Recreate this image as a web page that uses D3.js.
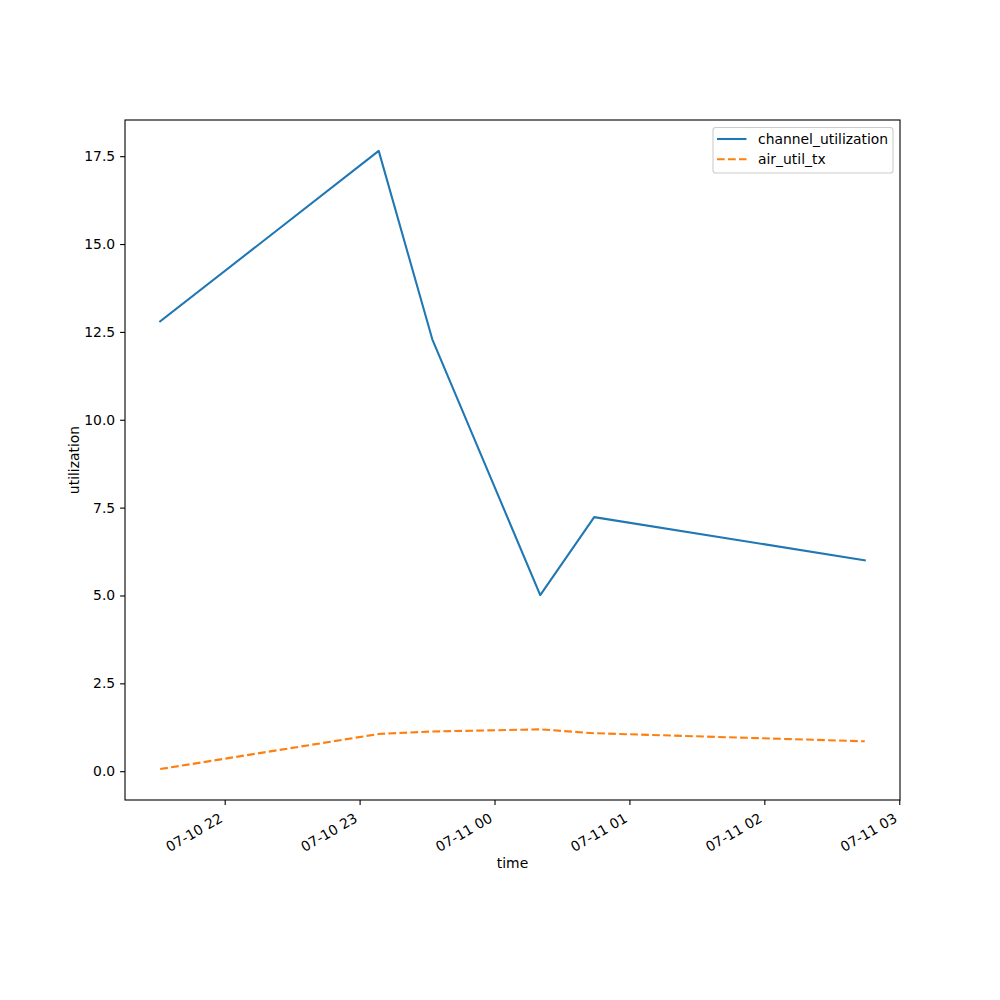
<!DOCTYPE html>
<html>
<style>
  body { margin: 0; background: #ffffff; }
  svg { font-family: "DejaVu Sans", sans-serif; }
</style>
<script src="https://d3js.org/d3.v7.min.js"></script>
<body>
<svg id="chart" width="1000" height="1000"></svg>
</body>
<script>
  // readings (UTC)
  const times = [
    "2024-07-10T21:31:20Z", "2024-07-10T23:08:30Z", "2024-07-10T23:32:20Z",
    "2024-07-11T00:20:20Z", "2024-07-11T00:44:20Z", "2024-07-11T02:44:40Z"
  ]
  const channelUtilization = [12.80, 17.65, 12.29, 5.01, 7.23, 6.00]
  const airUtilTx = [0.06, 1.06, 1.13, 1.19, 1.08, 0.85]
  const seriesNames = ["channel_utilization", "air_util_tx"]
  const yTicks = [0.0, 2.5, 5.0, 7.5, 10.0, 12.5, 15.0, 17.5]

  const margin = {left: 125, right: 100, top: 120, bottom: 200}
  const width = 1000, height = 1000
  const font = "DejaVu Sans, sans-serif"
  const svg = d3.select("#chart")

  const dates = times.map(t => new Date(t))

  // matplotlib style 5% margins
  const pad = (lo, hi) => { let m = (hi - lo) * 0.05; return [lo - m, hi + m] }
  const xExt = d3.extent(dates).map(d => +d)
  const allY = channelUtilization.concat(airUtilTx)
  const yExt = d3.extent(allY)

  const x = d3.scaleUtc()
      .domain(pad(xExt[0], xExt[1]).map(v => new Date(v)))
      .range([margin.left, width - margin.right])
  const y = d3.scaleLinear()
      .domain(pad(yExt[0], yExt[1]))
      .range([height - margin.bottom, margin.top])

  const fmt = d3.utcFormat("%m-%d %H")

  // x axis
  let xAxis = svg.append("g")
      .attr("transform", `translate(0,${height - margin.bottom})`)
      .call(d3.axisBottom(x).ticks(d3.utcHour.every(1)).tickSize(4.9).tickFormat(fmt))
      .attr("font-family", font)
  xAxis.select(".domain").remove()
  xAxis.selectAll(".tick line").attr("stroke", "#000").attr("stroke-width", 1.1)
  xAxis.selectAll(".tick text")
      .attr("font-size", 13.9)
      .attr("fill", "#000")
      .attr("text-anchor", "end")
      .attr("dy", null)
      .attr("y", null)
      .attr("transform", "translate(-1.6,21) rotate(-30)")

  // y axis
  let yAxis = svg.append("g")
      .attr("transform", `translate(${margin.left},0)`)
      .call(d3.axisLeft(y).tickValues(yTicks).tickSize(4.9).tickPadding(4.9).tickFormat(d3.format(".1f")))
      .attr("font-family", font)
  yAxis.select(".domain").remove()
  yAxis.selectAll(".tick line").attr("stroke", "#000").attr("stroke-width", 1.1)
  yAxis.selectAll(".tick text").attr("font-size", 13.9).attr("fill", "#000")

  // lines
  const line = vals => d3.line()
      .x((d, i) => x(dates[i]))
      .y(d => y(d))(vals)

  svg.append("path")
      .attr("d", line(channelUtilization))
      .attr("fill", "none")
      .attr("stroke", "#1f77b4")
      .attr("stroke-width", 2.08)
      .attr("stroke-linejoin", "round")
      .attr("stroke-linecap", "square")

  svg.append("path")
      .attr("d", line(airUtilTx))
      .attr("fill", "none")
      .attr("stroke", "#ff7f0e")
      .attr("stroke-width", 2.08)
      .attr("stroke-dasharray", "7.7,3.3")

  // frame
  svg.append("rect")
      .attr("x", margin.left)
      .attr("y", margin.top)
      .attr("width", width - margin.left - margin.right)
      .attr("height", height - margin.top - margin.bottom)
      .attr("fill", "none")
      .attr("stroke", "#000")
      .attr("stroke-width", 1.1)

  // axis labels
  svg.append("text")
      .attr("x", (margin.left + width - margin.right) / 2)
      .attr("y", 868)
      .attr("text-anchor", "middle")
      .attr("font-size", 13.9)
      .text("time")

  svg.append("text")
      .attr("transform", `translate(78.5,${(margin.top + height - margin.bottom) / 2}) rotate(-90)`)
      .attr("text-anchor", "middle")
      .attr("font-size", 13.9)
      .text("utilization")

  // legend
  let legend = svg.append("g")
  legend.append("rect")
      .attr("x", 713).attr("y", 127.5)
      .attr("width", 180).attr("height", 45.5)
      .attr("rx", 2.8)
      .attr("fill", "#fff").attr("fill-opacity", 0.8)
      .attr("stroke", "#cccccc").attr("stroke-width", 1.1)
  const colors = ["#1f77b4", "#ff7f0e"]
  const dashes = [null, "7.7,3.3"]
  seriesNames.forEach((name, i) => {
    let cy = 139 + i * 20.2
    legend.append("line")
        .attr("x1", 717).attr("x2", 746.5)
        .attr("y1", cy).attr("y2", cy)
        .attr("stroke", colors[i])
        .attr("stroke-width", 2.08)
        .attr("stroke-dasharray", dashes[i])
    legend.append("text")
        .attr("x", 758)
        .attr("y", cy + 5)
        .attr("font-size", 13.9)
        .text(name)
  })
</script>
</html>
